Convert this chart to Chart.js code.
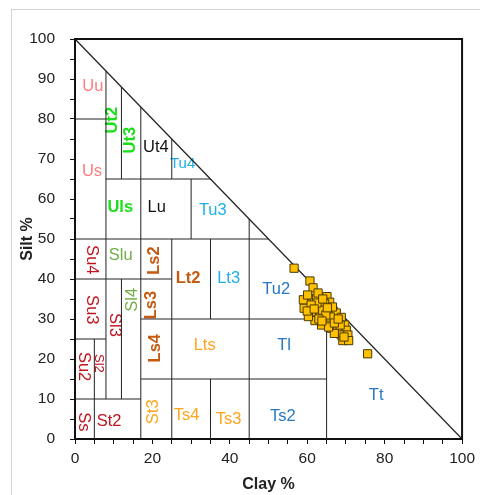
<!DOCTYPE html>
<html>
<head>
<meta charset="utf-8">
<script src="https://cdn.jsdelivr.net/npm/chart.js@4"></script>
<style>
  body { margin: 0; background: #fff; }
  #wrap { position: relative; width: 480px; height: 495px; }
  #frame { position: absolute; left: 11px; top: 9px; right: 0; bottom: 0;
           border-top: 1px solid #d4d4d4; border-left: 1px solid #d4d4d4; pointer-events: none; }
</style>
</head>
<body>
<div id="wrap">
  <canvas id="chart" width="480" height="495"></canvas>
  <div id="frame"></div>
</div>
<script>
// Sample data (clay %, silt %)
const clay = [56.6, 60.7, 61.5, 62.4, 65.1, 65.8, 59.8, 59.2, 61.1, 63.2, 64.5, 66.7, 67.5, 63.4, 62.0,
              65.4, 67.5, 68.8, 63.7, 66.2, 67.9, 69.7, 70.1, 68.8, 70.5, 69.2, 70.7, 67.0, 60.3, 75.6,
              59.0, 60.1, 64.0, 62.5, 61.0, 66.0, 64.8, 63.0, 65.5, 68.5, 66.5, 62.8, 64.0, 60.0, 67.0,
              61.8, 63.8, 65.2, 68.0, 69.5];
const silt = [42.7, 39.5, 37.8, 35.2, 35.6, 34.2, 33.9, 32.7, 31.8, 33.1, 33.9, 32.0, 31.5, 30.8, 29.6,
              29.6, 29.6, 30.4, 28.5, 27.7, 27.2, 28.5, 27.2, 26.0, 26.0, 24.6, 24.6, 26.4, 30.6, 21.3,
              34.8, 36.0, 32.2, 34.0, 33.5, 30.5, 31.0, 30.0, 28.0, 28.5, 33.0, 36.5, 35.0, 32.0, 29.0,
              32.5, 29.5, 32.8, 30.0, 25.5];

// class boundaries: horizontal [silt, clayFrom, clayTo], vertical [clay, siltFrom, siltTo]
const hLines = [[80, 0, 8], [65, 8, 35], [50, 0, 50], [40, 0, 25], [30, 17, 65], [25, 0, 8], [15, 17, 65], [10, 0, 17]];
const vLines = [[5, 0, 25], [8, 10, 92], [12, 10, 40], [12, 65, 88], [17, 0, 83], [25, 0, 50], [25, 65, 75],
                [30, 50, 65], [35, 0, 15], [35, 30, 50], [45, 0, 55], [65, 0, 30]];

// class names and where they sit (clay, silt)
const classNames = ['Uu', 'Us', 'Ut2', 'Ut3', 'Ut4', 'Tu4', 'Uls', 'Lu', 'Tu3', 'Su4', 'Slu', 'Ls2', 'Lt2', 'Lt3',
                    'Su3', 'Sl3', 'Sl4', 'Ls3', 'Ls4', 'Lts', 'Tu2', 'Tl', 'Su2', 'Sl2', 'Ss', 'St2', 'St3',
                    'Ts4', 'Ts3', 'Ts2', 'Tt'];
const classClay = [4.6, 4.4, 9.8, 14.4, 20.9, 27.8, 11.7, 21.1, 35.6, 4.4, 11.8, 20.5, 29.2, 39.7,
                   4.4, 10.1, 14.8, 19.7, 20.8, 33.5, 52.0, 54.0, 2.3, 6.2, 2.3, 8.8, 20.3,
                   28.8, 39.7, 53.7, 77.8];
const classSilt = [88.2, 66.8, 79.7, 74.7, 72.8, 68.8, 58.0, 58.0, 57.2, 44.8, 45.8, 44.6, 40.2, 40.2,
                   32.3, 28.5, 34.8, 33.5, 22.7, 23.3, 37.5, 23.3, 18.1, 18.9, 4.3, 4.3, 6.8,
                   5.8, 4.8, 5.6, 10.8];

const PINK = '#ff7c80', GREEN = '#19e019', RED = '#c0141e', OLIVE = '#70ad47', BROWN = '#c55a11',
      ORANGE = '#ffa41c', LBLUE = '#1eaeea', BLUE = '#2878c3';
// colour, bold, rotation, size per class
const classStyle = {
  Uu: [PINK], Us: [PINK], Ut2: [GREEN, 1, -1], Ut3: [GREEN, 1, -1], Ut4: ['#111'], Tu4: [LBLUE, 0, 0, 15],
  Uls: [GREEN, 1], Lu: ['#111'], Tu3: [LBLUE], Su4: [RED, 0, 1], Slu: [OLIVE], Ls2: [BROWN, 1, -1],
  Lt2: [BROWN, 1], Lt3: [LBLUE], Su3: [RED, 0, 1], Sl3: [RED, 0, 1], Sl4: [OLIVE, 0, -1], Ls3: [BROWN, 1, -1],
  Ls4: [BROWN, 1, -1], Lts: [ORANGE], Tu2: [BLUE], Tl: [BLUE], Su2: [RED, 0, 1], Sl2: [RED, 0, 1, 13],
  Ss: [RED, 0, 1], St2: [RED], St3: [ORANGE, 0, -1], Ts4: [ORANGE], Ts3: [ORANGE], Ts2: [BLUE], Tt: [BLUE]
};

const FONT = 'Liberation Sans, Arial, sans-serif';

function seg(x1, y1, x2, y2, w) {
  return {
    type: 'scatter', showLine: true, data: [{x: x1, y: y1}, {x: x2, y: y2}],
    borderColor: '#222', borderWidth: w || 1, pointRadius: 0, fill: false
  };
}

const datasets = [{
  type: 'scatter',
  data: clay.map((c, i) => ({x: c, y: silt[i]})),
  pointStyle: 'rect', pointRadius: 5.8,
  backgroundColor: '#ffc000', borderColor: '#4a3a00', borderWidth: 1
}];
hLines.forEach(h => datasets.push(seg(h[1], h[0], h[2], h[0])));
vLines.forEach(v => datasets.push(seg(v[0], v[1], v[0], v[2])));
datasets.push(seg(0, 100, 100, 0, 1.3));

const classLabels = {
  id: 'classLabels',
  beforeDatasetsDraw(chart) {
    const ctx = chart.ctx, xs = chart.scales.x, ys = chart.scales.y;
    ctx.save();
    ctx.textAlign = 'center';
    ctx.textBaseline = 'middle';
    classNames.forEach((name, i) => {
      const st = classStyle[name];
      ctx.fillStyle = st[0];
      ctx.font = (st[1] ? 'bold ' : '') + (st[3] || 16.5) + 'px ' + FONT;
      ctx.save();
      ctx.translate(xs.getPixelForValue(classClay[i]), ys.getPixelForValue(classSilt[i]));
      if (st[2]) ctx.rotate(st[2] * Math.PI / 2);
      ctx.fillText(name, 0, 0);
      ctx.restore();
    });
    ctx.restore();
  },
  afterDraw(chart) {
    const a = chart.chartArea, ctx = chart.ctx;
    ctx.save();
    ctx.strokeStyle = '#111';
    ctx.lineWidth = 2;
    ctx.strokeRect(a.left, a.top, a.right - a.left, a.bottom - a.top);
    ctx.restore();
  }
};

new Chart(document.getElementById('chart'), {
  type: 'scatter',
  data: { datasets: datasets },
  plugins: [classLabels],
  options: {
    responsive: false,
    animation: false,
    layout: { padding: { top: 39, right: 15, left: 0, bottom: 0 } },
    plugins: { legend: { display: false }, tooltip: { enabled: false } },
    scales: {
      x: {
        type: 'linear', min: 0, max: 100,
        afterFit: s => { s.height = 56; },
        ticks: { stepSize: 5, autoSkip: false, maxRotation: 0, padding: 5, color: '#222',
                 font: { size: 15.5, family: FONT }, callback: v => v % 20 === 0 ? v : '' },
        grid: { drawOnChartArea: false, tickLength: 5, tickColor: '#111' },
        border: { color: '#111', width: 2 },
        title: { display: true, text: 'Clay %', color: '#222', padding: { top: 0, bottom: 1 },
                 font: { size: 16, weight: 'bold', family: FONT } }
      },
      y: {
        type: 'linear', min: 0, max: 100,
        afterFit: s => { s.width = 75; },
        ticks: { stepSize: 5, autoSkip: false, padding: 15, color: '#222',
                 font: { size: 15.5, family: FONT }, callback: v => v % 10 === 0 ? v : '' },
        grid: { drawOnChartArea: false, tickLength: 5, tickColor: '#111' },
        border: { color: '#111', width: 2 },
        title: { display: true, text: 'Silt %', color: '#222', padding: { top: 18, bottom: 0 },
                 font: { size: 16, weight: 'bold', family: FONT } }
      }
    }
  }
});
</script>
</body>
</html>
